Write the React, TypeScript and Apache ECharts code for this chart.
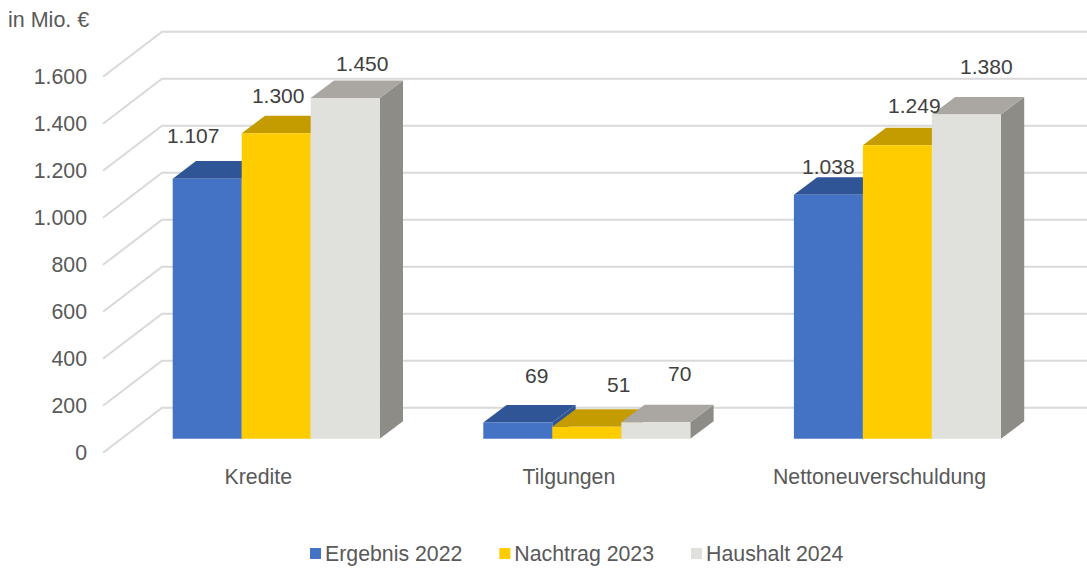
import React, { useEffect, useRef } from "react";
import * as echarts from "echarts";

const categories = ["Kredite", "Tilgungen", "Nettoneuverschuldung"];
const seriesNames = ["Ergebnis 2022", "Nachtrag 2023", "Haushalt 2024"];
const ergebnis2022 = [1107, 69, 1038];
const nachtrag2023 = [1300, 51, 1249];
const haushalt2024 = [1450, 70, 1380];
const yTicks = [0, 200, 400, 600, 800, 1000, 1200, 1400, 1600];

// Hand-placed data label offsets relative to each bar's top centre
const labelOffsets = [
  [[-14, -43], [19, -47], [0, -28]],
  [[2, -38], [32, -42], [17, -40]],
  [[17, -35], [24, -49], [20, -48]],
];

const palette = [
  { front: "#4472C4", top: "#2F5597", side: "#2F5597" },
  { front: "#FFCC00", top: "#C49C00", side: "#A88600" },
  { front: "#E0E1DC", top: "#AAA7A2", side: "#8E8C87" },
];

const FONT = '"Liberation Sans", Arial, sans-serif';
const fmt = (v: number) => String(v).replace(/\B(?=(\d{3})+$)/g, ".");

const WALL_DX = 59;
const WALL_DY = -45;
const BAR_SHIFT_X = 17.9;
const BAR_SHIFT_Y = -14;
const BAR_DEPTH_X = 23.3;
const BAR_DEPTH_Y = -17.6;
const BAR_RATIO = 69 / 310.6;

function wallRenderer(params: any, api: any) {
  const v = api.value(0);
  const [, y] = api.coord([0, v]);
  const x = params.coordSys.x;
  return {
    type: "polyline",
    silent: true,
    shape: { points: [[x, y], [x + WALL_DX, y + WALL_DY], [api.getWidth(), y + WALL_DY]] },
    style: { stroke: "#D9D9D9", lineWidth: 2, fill: "none" },
  };
}

function barRenderer(s: number) {
  return (params: any, api: any) => {
    const i = api.value(0);
    const v = api.value(1);
    const [cx, yTop0] = api.coord([i, v]);
    const [, yBase0] = api.coord([i, 0]);
    const w = api.size([1, 0])[0] * BAR_RATIO;
    const x = cx + BAR_SHIFT_X + (s - 1.5) * w;
    const top = yTop0 + BAR_SHIFT_Y;
    const base = yBase0 + BAR_SHIFT_Y;
    const c = palette[s];
    const [ox, oy] = labelOffsets[s][i];
    return {
      type: "group",
      children: [
        {
          type: "polygon",
          silent: true,
          shape: { points: [[x + w, top], [x + w + BAR_DEPTH_X, top + BAR_DEPTH_Y], [x + w + BAR_DEPTH_X, base + BAR_DEPTH_Y], [x + w, base]] },
          style: { fill: c.side },
        },
        {
          type: "polygon",
          silent: true,
          shape: { points: [[x, top], [x + BAR_DEPTH_X, top + BAR_DEPTH_Y], [x + w + BAR_DEPTH_X, top + BAR_DEPTH_Y], [x + w, top]] },
          style: { fill: c.top },
        },
        {
          type: "rect",
          silent: true,
          shape: { x, y: top, width: w, height: base - top },
          style: { fill: c.front },
        },
        {
          type: "text",
          silent: true,
          z2: 100,
          style: {
            text: fmt(v),
            x: x + w / 2 + ox,
            y: top + oy,
            align: "center",
            verticalAlign: "middle",
            fill: "#404040",
            font: `21px ${FONT}`,
          },
        },
      ],
    };
  };
}

export default function App() {
  const ref = useRef<HTMLDivElement>(null);
  useEffect(() => {
    const chart = echarts.init(ref.current!, undefined, { renderer: "svg" });
    const values = [ergebnis2022, nachtrag2023, haushalt2024];
    chart.setOption({
      animation: false,
      backgroundColor: "#ffffff",
      textStyle: { fontFamily: FONT },
      title: {
        text: "in Mio. €",
        left: 8,
        top: 9,
        padding: 0,
        textStyle: { fontFamily: FONT, fontSize: 21.5, fontWeight: "normal", color: "#595959" },
      },
      grid: { left: 103, top: 76.8, width: 931.8, height: 376 },
      legend: {
        data: seriesNames,
        left: 310,
        top: 543,
        padding: 0,
        itemWidth: 11,
        itemHeight: 11,
        itemGap: 37,
        icon: "rect",
        selectedMode: false,
        textStyle: { fontFamily: FONT, fontSize: 21.3, color: "#595959", padding: [0, 0, 0, -1] },
      },
      xAxis: {
        type: "category",
        data: categories,
        axisLine: { show: false },
        axisTick: { show: false },
        axisLabel: { fontSize: 21.3, color: "#595959", margin: 13.5, fontFamily: FONT },
      },
      yAxis: {
        type: "value",
        min: 0,
        max: 1600,
        interval: 200,
        axisLine: { show: false },
        axisTick: { show: false },
        splitLine: { show: false },
        axisLabel: {
          fontSize: 21.3,
          color: "#595959",
          margin: 16,
          fontFamily: FONT,
          padding: [0, 0, 8, 0],
          formatter: (v: number) => fmt(v),
        },
      },
      series: [
        {
          type: "custom",
          name: "walls",
          renderItem: wallRenderer,
          data: yTicks.map((t) => [t]),
          encode: { y: 0 },
          silent: true,
          z: 1,
        },
        ...seriesNames.map((name, s) => ({
          type: "custom",
          name,
          renderItem: barRenderer(s),
          itemStyle: { color: palette[s].front },
          data: values[s].map((v, i) => [i, v]),
          encode: { x: 0, y: 1 },
          silent: true,
          z: 2,
        })),
      ],
    });
    return () => chart.dispose();
  }, []);
  return <div ref={ref} style={{ position: "fixed", left: 0, top: 0, width: 1087, height: 568 }} />;
}
